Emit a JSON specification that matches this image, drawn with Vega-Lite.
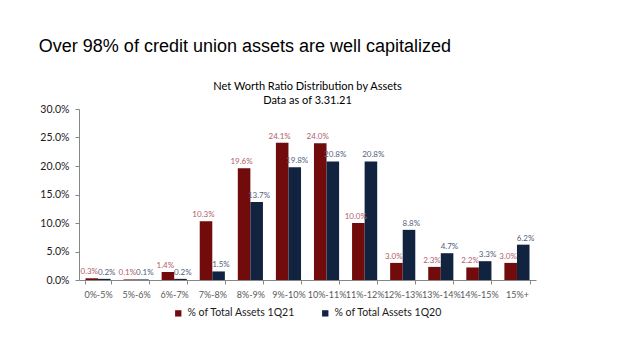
{
  "$schema": "https://vega.github.io/schema/vega-lite/v6.json",
  "background": "white",
  "padding": {"left": 38, "top": 38, "right": 5, "bottom": 5},
  "title": {
    "text": "Over 98% of credit union assets are well capitalized",
    "anchor": "start", "frame": "bounds",
    "font": "Liberation Sans", "fontSize": 18, "fontWeight": "normal", "color": "#000000",
    "dx": -1, "offset": 25
  },
  "vconcat": [
    {
      "width": 457,
      "height": 171,
      "title": {
        "text": ["Net Worth Ratio Distribution by Assets", "Data as of 3.31.21"],
        "anchor": "middle", "frame": "group",
        "font": "Lato", "fontSize": 11, "fontWeight": "normal", "color": "#000000",
        "lineHeight": 14, "offset": -2
      },
      "data": {
        "values": [
          {"range": "0%-5%", "series": "% of Total Assets 1Q21", "value": 0.003},
          {"range": "0%-5%", "series": "% of Total Assets 1Q20", "value": 0.002},
          {"range": "5%-6%", "series": "% of Total Assets 1Q21", "value": 0.001},
          {"range": "5%-6%", "series": "% of Total Assets 1Q20", "value": 0.001},
          {"range": "6%-7%", "series": "% of Total Assets 1Q21", "value": 0.014},
          {"range": "6%-7%", "series": "% of Total Assets 1Q20", "value": 0.002},
          {"range": "7%-8%", "series": "% of Total Assets 1Q21", "value": 0.103},
          {"range": "7%-8%", "series": "% of Total Assets 1Q20", "value": 0.015},
          {"range": "8%-9%", "series": "% of Total Assets 1Q21", "value": 0.196},
          {"range": "8%-9%", "series": "% of Total Assets 1Q20", "value": 0.137},
          {"range": "9%-10%", "series": "% of Total Assets 1Q21", "value": 0.241},
          {"range": "9%-10%", "series": "% of Total Assets 1Q20", "value": 0.198},
          {"range": "10%-11%", "series": "% of Total Assets 1Q21", "value": 0.240},
          {"range": "10%-11%", "series": "% of Total Assets 1Q20", "value": 0.208},
          {"range": "11%-12%", "series": "% of Total Assets 1Q21", "value": 0.100},
          {"range": "11%-12%", "series": "% of Total Assets 1Q20", "value": 0.208},
          {"range": "12%-13%", "series": "% of Total Assets 1Q21", "value": 0.030},
          {"range": "12%-13%", "series": "% of Total Assets 1Q20", "value": 0.088},
          {"range": "13%-14%", "series": "% of Total Assets 1Q21", "value": 0.023},
          {"range": "13%-14%", "series": "% of Total Assets 1Q20", "value": 0.047},
          {"range": "14%-15%", "series": "% of Total Assets 1Q21", "value": 0.022},
          {"range": "14%-15%", "series": "% of Total Assets 1Q20", "value": 0.033},
          {"range": "15%+", "series": "% of Total Assets 1Q21", "value": 0.030},
          {"range": "15%+", "series": "% of Total Assets 1Q20", "value": 0.062}
        ]
      },
      "encoding": {
        "x": {
          "field": "range", "type": "nominal", "sort": null,
          "scale": {"paddingInner": 0.34, "paddingOuter": 0.17},
          "axis": {
            "title": null, "labelAngle": 0, "tickBand": "extent",
            "domainColor": "#868686", "tickColor": "#868686", "tickSize": 4,
            "labelFont": "Lato", "labelFontSize": 9, "labelColor": "#595959", "labelPadding": 6
          }
        },
        "y": {
          "field": "value", "type": "quantitative",
          "scale": {"domain": [0, 0.3]},
          "axis": {
            "title": null, "format": ".1%", "values": [0, 0.05, 0.1, 0.15, 0.2, 0.25, 0.3],
            "grid": false, "domainColor": "#868686", "tickColor": "#868686", "tickSize": 4,
            "labelFont": "Lato", "labelFontSize": 10.5, "labelColor": "#1a1a1a", "labelPadding": 6
          }
        }
      },
      "layer": [
        {
          "mark": {"type": "bar"},
          "encoding": {
            "xOffset": {"field": "series", "type": "nominal", "sort": ["% of Total Assets 1Q21", "% of Total Assets 1Q20"]},
            "color": {
              "field": "series", "type": "nominal",
              "sort": ["% of Total Assets 1Q21", "% of Total Assets 1Q20"],
              "scale": {"range": ["#720b0b", "#11233f"]},
              "legend": {
                "title": null, "orient": "bottom", "direction": "horizontal",
                "symbolType": "square", "symbolSize": 40, "symbolStrokeWidth": 0,
                "labelFont": "Lato", "labelFontSize": 10.5, "labelColor": "#1a1a1a",
                "columnPadding": 24, "offset": 9
              }
            }
          }
        },
        {
          "mark": {"type": "text", "dy": -6, "font": "Lato", "fontSize": 8},
          "encoding": {
            "xOffset": {
              "field": "series", "type": "nominal",
              "sort": ["% of Total Assets 1Q21", "% of Total Assets 1Q20"],
              "scale": {"range": [-5, 30]}
            },
            "text": {"field": "value", "type": "quantitative", "format": ".1%"},
            "color": {
              "field": "series", "type": "nominal",
              "sort": ["% of Total Assets 1Q21", "% of Total Assets 1Q20"],
              "scale": {"range": ["#b0606a", "#52607a"]},
              "legend": null
            }
          }
        }
      ],
      "resolve": {"scale": {"color": "independent", "xOffset": "independent"}}
    }
  ],
  "config": {
    "view": {"stroke": null},
    "concat": {"spacing": 0},
    "legend": {"layout": {"bottom": {"anchor": "middle"}}}
  }
}
